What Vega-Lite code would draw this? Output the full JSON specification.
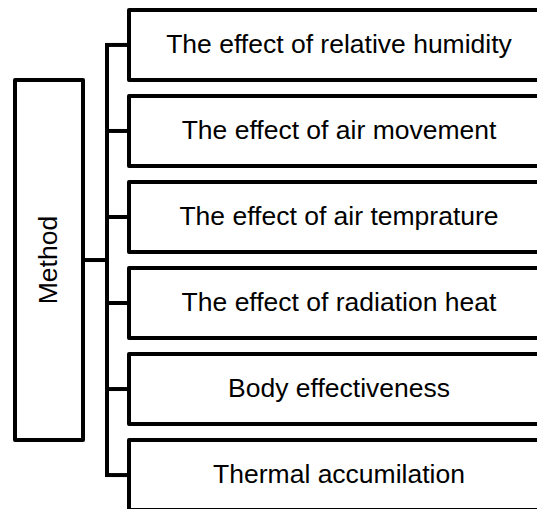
{
  "$schema": "https://vega.github.io/schema/vega-lite/v6.json",
  "width": 537,
  "height": 509,
  "autosize": "none",
  "padding": 0,
  "background": "white",
  "config": {"view": {"stroke": null}},
  "datasets": {
    "childnodes": [
      {"label": "The effect of relative humidity"},
      {"label": "The effect of air movement"},
      {"label": "The effect of air temprature"},
      {"label": "The effect of radiation heat"},
      {"label": "Body effectiveness"},
      {"label": "Thermal accumilation"}
    ],
    "rootnode": [{"label": "Method"}]
  },
  "resolve": {"scale": {"x": "shared", "y": "shared"}},
  "layer": [
    {
      "data": {"name": "rootnode"},
      "mark": {"type": "rule", "stroke": "black", "strokeWidth": 4, "strokeCap": "square"},
      "encoding": {
        "x": {"datum": 107, "type": "quantitative", "axis": null, "scale": {"domain": [0, 537], "nice": false, "zero": false}},
        "y": {"datum": "The effect of relative humidity", "type": "nominal", "bandPosition": 0.5, "axis": null,
          "scale": {"type": "band", "domain": ["The effect of relative humidity", "The effect of air movement", "The effect of air temprature", "The effect of radiation heat", "Body effectiveness", "Thermal accumilation"],
            "range": [0, 520], "paddingInner": 0.185, "paddingOuter": 0.115}},
        "y2": {"datum": "Thermal accumilation", "bandPosition": 0.5}
      }
    },
    {
      "data": {"name": "childnodes"},
      "mark": {"type": "rule", "stroke": "black", "strokeWidth": 4, "strokeCap": "square"},
      "encoding": {
        "x": {"datum": 107, "type": "quantitative"},
        "x2": {"datum": 129},
        "y": {"field": "label", "type": "nominal"}
      }
    },
    {
      "data": {"name": "rootnode"},
      "mark": {"type": "rule", "stroke": "black", "strokeWidth": 4, "strokeCap": "butt"},
      "encoding": {
        "x": {"datum": 83, "type": "quantitative"},
        "x2": {"datum": 107},
        "y": {"datum": "The effect of radiation heat", "type": "nominal", "bandPosition": -0.113}
      }
    },
    {
      "data": {"name": "childnodes"},
      "mark": {"type": "rect", "fill": "white", "stroke": "black", "strokeWidth": 4, "strokeJoin": "round"},
      "encoding": {
        "x": {"datum": 129, "type": "quantitative"},
        "x2": {"datum": 553},
        "y": {"field": "label", "type": "nominal"}
      }
    },
    {
      "data": {"name": "rootnode"},
      "mark": {"type": "rect", "fill": "white", "stroke": "black", "strokeWidth": 4, "strokeJoin": "round"},
      "encoding": {
        "x": {"datum": 15, "type": "quantitative"},
        "x2": {"datum": 83},
        "y": {"datum": "The effect of relative humidity", "type": "nominal", "bandPosition": 1},
        "y2": {"datum": "Thermal accumilation", "bandPosition": 0}
      }
    },
    {
      "data": {"name": "childnodes"},
      "mark": {"type": "text", "font": "Liberation Sans", "fontSize": 26.5, "fill": "black", "align": "center", "baseline": "middle"},
      "encoding": {
        "x": {"datum": 339, "type": "quantitative"},
        "y": {"field": "label", "type": "nominal"},
        "text": {"field": "label"}
      }
    },
    {
      "data": {"name": "rootnode"},
      "mark": {"type": "text", "font": "Liberation Sans", "fontSize": 26.5, "fill": "black", "align": "center", "baseline": "middle", "angle": 270},
      "encoding": {
        "x": {"datum": 49, "type": "quantitative"},
        "y": {"datum": "The effect of radiation heat", "type": "nominal", "bandPosition": -0.113},
        "text": {"field": "label"}
      }
    }
  ]
}
